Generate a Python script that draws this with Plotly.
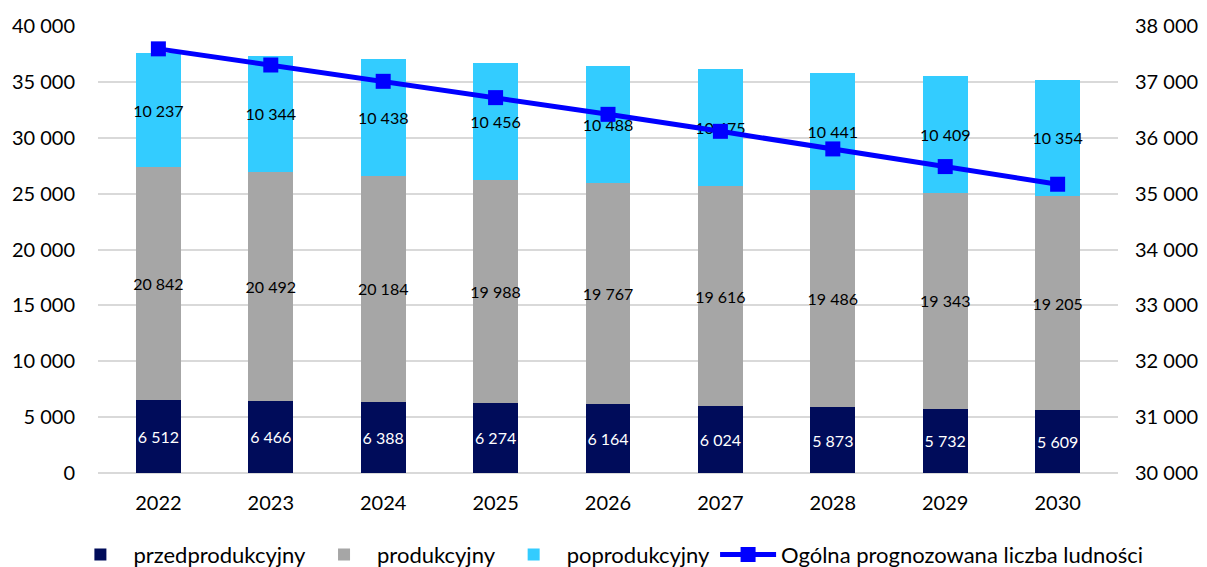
import plotly.graph_objects as go

years = ["2022", "2023", "2024", "2025", "2026", "2027", "2028", "2029", "2030"]
przedprodukcyjny = [6512, 6466, 6388, 6274, 6164, 6024, 5873, 5732, 5609]
produkcyjny = [20842, 20492, 20184, 19988, 19767, 19616, 19486, 19343, 19205]
poprodukcyjny = [10237, 10344, 10438, 10456, 10488, 10475, 10441, 10409, 10354]
ogolna = [37591, 37302, 37010, 36718, 36419, 36115, 35800, 35484, 35168]

FONT = "Lato"

fig = go.Figure()

def add_bar(name, vals, color, txtcolor):
    fig.add_trace(go.Bar(
        x=years, y=vals, name=name,
        marker=dict(color=color, line=dict(width=0)),
        texttemplate="%{y:,}", textposition="inside", insidetextanchor="middle",
        textangle=0, constraintext="none",
        textfont=dict(family=FONT, size=16, color=txtcolor),
        hoverinfo="skip",
    ))

add_bar("przedprodukcyjny", przedprodukcyjny, "#000C5A", "white")
add_bar("produkcyjny", produkcyjny, "#A6A6A6", "black")
add_bar("poprodukcyjny", poprodukcyjny, "#33CCFF", "black")

fig.add_trace(go.Scatter(
    x=years, y=ogolna, name="Ogólna prognozowana liczba ludności",
    yaxis="y2", mode="lines+markers",
    line=dict(color="#0000FF", width=5),
    marker=dict(symbol="square", size=15, color="#0000FF"),
))

# page body adds an 8px offset, so margins are shifted to compensate
fig.update_layout(
    width=1207, height=567,
    barmode="stack", bargap=0.6,
    separators=", ",
    paper_bgcolor="white", plot_bgcolor="white",
    font=dict(family=FONT, size=20, color="black"),
    margin=dict(l=90, r=97, t=18, b=102, autoexpand=False),
    xaxis=dict(showline=False, ticks="", automargin=False,
               ticklabelstandoff=16),
    yaxis=dict(range=[0, 40000], dtick=5000, tickformat=",d",
               gridcolor="#D9D9D9", gridwidth=2, zeroline=True,
               zerolinecolor="#D9D9D9", zerolinewidth=2, ticks="",
               automargin=False, ticklabelstandoff=22),
    yaxis2=dict(range=[30000, 38000], dtick=1000, tickformat=",d",
                overlaying="y", side="right", showgrid=False,
                zeroline=False, ticks="", automargin=False,
                ticklabelstandoff=16),
    legend=dict(orientation="h", x=-0.03, xanchor="left", y=-0.183,
                yanchor="middle", font=dict(size=22), traceorder="normal",
                itemwidth=56),
    showlegend=True,
)

fig.write_html("out.html")
